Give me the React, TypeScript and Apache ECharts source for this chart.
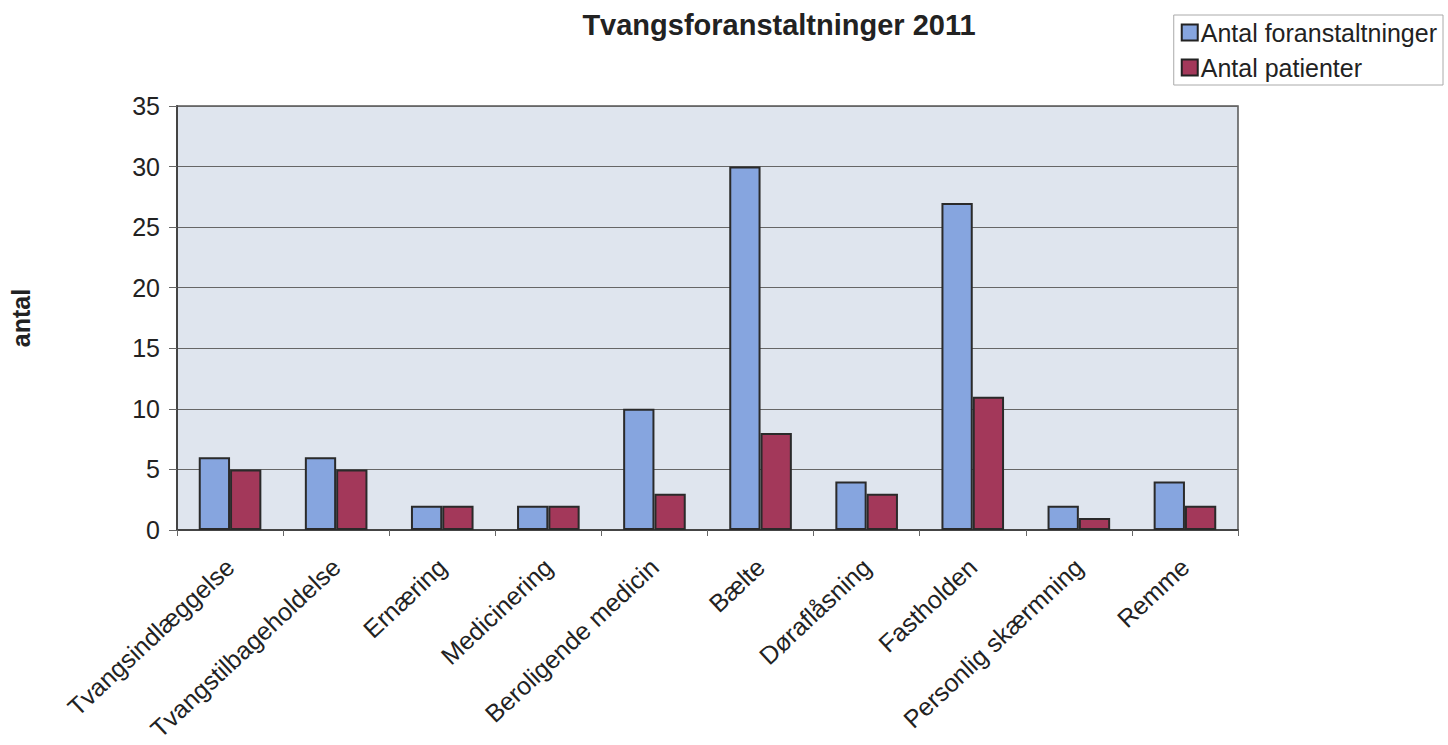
import React, { useEffect, useRef } from "react";
import * as echarts from "echarts";

const title = "Tvangsforanstaltninger 2011";
const yAxisName = "antal";
const categories = [
  "Tvangsindlæggelse",
  "Tvangstilbageholdelse",
  "Ernæring",
  "Medicinering",
  "Beroligende medicin",
  "Bælte",
  "Døraflåsning",
  "Fastholden",
  "Personlig skærmning",
  "Remme",
];
const seriesNames = ["Antal foranstaltninger", "Antal patienter"];
const antalForanstaltninger = [6, 6, 2, 2, 10, 30, 4, 27, 2, 4];
const antalPatienter = [5, 5, 2, 2, 3, 8, 3, 11, 1, 2];

export default function App() {
  const ref = useRef<HTMLDivElement>(null);
  useEffect(() => {
    document.body.style.margin = "0";
    const chart = echarts.init(ref.current!, null, { renderer: "svg" });
    const font = "Liberation Sans, Arial, sans-serif";
    chart.setOption({
      animation: false,
      backgroundColor: "#ffffff",
      textStyle: { fontFamily: font },
      title: {
        text: title,
        left: 774,
        textAlign: "center",
        top: 5,
        textStyle: { fontSize: 29, fontWeight: "bold", color: "#222", fontFamily: font },
      },
      legend: {
        orient: "vertical",
        right: 5,
        top: 15,
        padding: [5, 6, 5, 7],
        itemGap: 10,
        borderColor: "#aaa",
        borderWidth: 1,
        icon: "rect",
        itemWidth: 16,
        itemHeight: 16,
        itemStyle: { borderColor: "#222", borderWidth: 2 },
        textStyle: {
          fontSize: 25,
          lineHeight: 25,
          color: "#222",
          fontFamily: font,
          padding: [0, 0, 0, -2],
        },
        data: seriesNames,
      },
      grid: {
        left: 177,
        right: 210,
        top: 106,
        bottom: 215,
        show: true,
        backgroundColor: "#dfe5ee",
        borderColor: "#555",
        borderWidth: 1.5,
      },
      xAxis: {
        type: "category",
        data: categories,
        axisLine: { lineStyle: { color: "#444", width: 2 } },
        axisTick: { show: true, length: 6, lineStyle: { color: "#666" } },
        axisLabel: {
          rotate: 43,
          fontSize: 25,
          color: "#222",
          margin: 33,
          interval: 0,
          fontFamily: font,
        },
      },
      yAxis: {
        type: "value",
        min: 0,
        max: 35,
        interval: 5,
        name: yAxisName,
        nameLocation: "middle",
        nameGap: 144,
        nameRotate: 90,
        nameTextStyle: { fontSize: 25, fontWeight: "bold", color: "#222", fontFamily: font },
        axisLine: { show: true, lineStyle: { color: "#444", width: 2 } },
        axisTick: { show: true, length: 8, lineStyle: { color: "#666" } },
        axisLabel: { fontSize: 25, color: "#222", margin: 17, fontFamily: font },
        splitLine: { show: true, lineStyle: { color: "#666", width: 1 } },
      },
      series: [
        {
          name: seriesNames[0],
          type: "bar",
          data: antalForanstaltninger,
          barGap: "0%",
          barCategoryGap: "41%",
          itemStyle: { color: "#86a5df", borderColor: "#2a2a2a", borderWidth: 2 },
        },
        {
          name: seriesNames[1],
          type: "bar",
          data: antalPatienter,
          itemStyle: { color: "#a3385a", borderColor: "#2a2a2a", borderWidth: 2 },
        },
      ],
    });
    return () => chart.dispose();
  }, []);
  return <div ref={ref} style={{ width: 1448, height: 745 }} />;
}
